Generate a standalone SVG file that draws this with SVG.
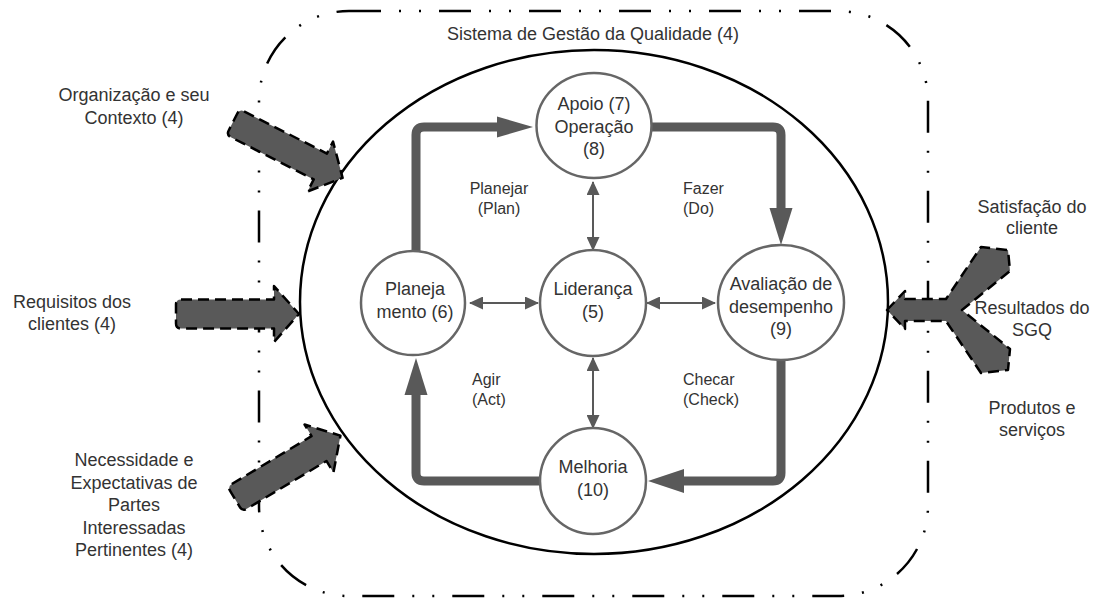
<svg xmlns="http://www.w3.org/2000/svg" width="1097" height="599" viewBox="0 0 1097 599">
<style>
  text { font-family: "Liberation Sans", Arial, sans-serif; fill: #333; }
  .lg { font-size: 18px; }
  .sm { font-size: 16px; }
  .mid { text-anchor: middle; }
  .node { fill: #fff; stroke: #666; stroke-width: 2.5; }
  .thick { fill: none; stroke: #595959; stroke-width: 9; stroke-linejoin: round; }
  .head { fill: #595959; }
  .thin { fill: none; stroke: #595959; stroke-width: 2; marker-start: url(#ah); marker-end: url(#ah); }
  .blk { fill: #595959; stroke: #000; stroke-width: 2.5; stroke-dasharray: 11 6; stroke-linejoin: round; }
  .border { fill: none; stroke: #000; stroke-width: 2.5; stroke-dasharray: 32 18 2 18 2 18; }
  .sys { fill: none; stroke: #000; stroke-width: 2.5; }
</style>
<defs>
  <marker id="ah" viewBox="0 0 14 13" markerWidth="14" markerHeight="13" refX="13" refY="6.5" markerUnits="userSpaceOnUse" orient="auto-start-reverse">
    <path d="M0,0 L14,6.5 L0,13 Z" fill="#595959"/>
  </marker>
  <path id="blkShape" d="M5,-14.5 L98,-14.5 L98,-28 L123,0 L98,28 L98,14.5 L5,14.5 Q0,14.5 0,9.5 L0,-9.5 Q0,-14.5 5,-14.5 Z"/>
</defs>

<g id="sistema">
  <rect class="border" x="259" y="11" width="669" height="585" rx="90" ry="90"/>
  <text class="lg mid" x="593" y="39.5">Sistema de Gestão da Qualidade (4)</text>
</g>

<g id="organizacao">
  <ellipse class="sys" cx="594" cy="302" rx="294" ry="252"/>
</g>

<g id="connectors">
  <path class="thick" d="M416,251 V135 Q416,127 424,127 H498"/>
  <polygon class="head" points="497,116.5 533,127 497,137.5"/>
  <path class="thick" d="M652,127 H773 Q781,127 781,135 V209"/>
  <polygon class="head" points="769.5,208 792.5,208 781,245"/>
  <path class="thick" d="M781,360 V473 Q781,481 773,481 H683"/>
  <polygon class="head" points="684,469 684,493 648,481"/>
  <path class="thick" d="M540,481 H424 Q416,481 416,473 V394"/>
  <polygon class="head" points="404.5,395 427.5,395 416,358"/>
  <path class="thin" d="M593,182 V250"/>
  <path class="thin" d="M470,303 H538"/>
  <path class="thin" d="M647,303 H715"/>
  <path class="thin" d="M593,358 V428"/>
</g>

<g id="apoio">
  <ellipse class="node" cx="594" cy="125.5" rx="57.5" ry="52.5"/>
  <text class="lg mid" x="594"><tspan x="594" y="110">Apoio (7)</tspan><tspan x="594" y="132.5">Operação</tspan><tspan x="594" y="155">(8)</tspan></text>
</g>

<g id="planejamento">
  <circle class="node" cx="413" cy="303" r="52"/>
  <text class="lg mid"><tspan x="415" y="294.5">Planeja</tspan><tspan x="415" y="318">mento (6)</tspan></text>
</g>

<g id="lideranca">
  <circle class="node" cx="593" cy="303" r="53"/>
  <text class="lg mid"><tspan x="593" y="294.5">Liderança</tspan><tspan x="593" y="318">(5)</tspan></text>
</g>

<g id="avaliacao">
  <ellipse class="node" cx="781" cy="302.5" rx="63" ry="57.5"/>
  <text class="lg mid"><tspan x="781" y="289.5">Avaliação de</tspan><tspan x="781" y="313">desempenho</tspan><tspan x="781" y="335">(9)</tspan></text>
</g>

<g id="melhoria">
  <circle class="node" cx="593" cy="481" r="53"/>
  <text class="lg mid"><tspan x="593" y="473">Melhoria</tspan><tspan x="593" y="495.5">(10)</tspan></text>
</g>

<g id="pdca-labels">
  <text class="sm mid"><tspan x="499" y="194">Planejar</tspan><tspan x="499" y="213.5">(Plan)</tspan></text>
  <text class="sm"><tspan x="683" y="194">Fazer</tspan><tspan x="683" y="213.5">(Do)</tspan></text>
  <text class="sm"><tspan x="472" y="385">Agir</tspan><tspan x="472" y="404.5">(Act)</tspan></text>
  <text class="sm"><tspan x="683" y="385">Checar</tspan><tspan x="683" y="404.5">(Check)</tspan></text>
</g>

<g id="entrada-contexto">
  <use href="#blkShape" class="blk" transform="translate(233,122) rotate(27)"/>
  <text class="lg mid"><tspan x="134" y="101">Organização e seu</tspan><tspan x="134" y="124">Contexto (4)</tspan></text>
</g>

<g id="entrada-requisitos">
  <use href="#blkShape" class="blk" transform="translate(176,314)"/>
  <text class="lg mid"><tspan x="72" y="307.5">Requisitos dos</tspan><tspan x="72" y="329.5">clientes (4)</tspan></text>
</g>

<g id="entrada-partes">
  <use href="#blkShape" class="blk" transform="translate(235,499) rotate(-31)"/>
  <text class="lg mid"><tspan x="134" y="466">Necessidade e</tspan><tspan x="134" y="488.5">Expectativas de</tspan><tspan x="134" y="511">Partes</tspan><tspan x="134" y="533.5">Interessadas</tspan><tspan x="134" y="556">Pertinentes (4)</tspan></text>
</g>

<g id="resultados">
  <path class="blk" d="M887,310 L905,291 L905,299 L946,299 L981,247 L1008,250 L1010,271 L962,310 L1010,349 L1008,370 L981,373 L946,321 L905,321 L905,329 Z"/>
  <text class="lg mid"><tspan x="1032" y="212.5">Satisfação do</tspan><tspan x="1032" y="234">cliente</tspan></text>
  <text class="lg mid"><tspan x="1032" y="314">Resultados do</tspan><tspan x="1032" y="336">SGQ</tspan></text>
  <text class="lg mid"><tspan x="1032" y="414">Produtos e</tspan><tspan x="1032" y="436">serviços</tspan></text>
</g>
</svg>
